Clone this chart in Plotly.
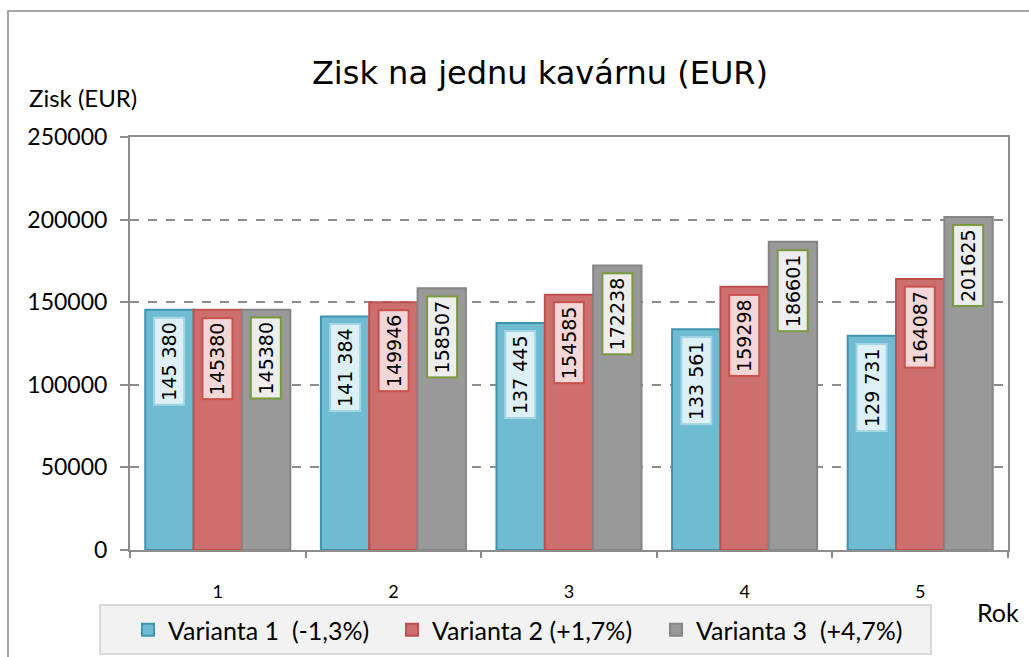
import plotly.graph_objects as go

years = [1, 2, 3, 4, 5]
year_labels = ["1", "2", "3", "4", "5"]
v1 = [145380, 141384, 137445, 133561, 129731]
v2 = [145380, 149946, 154585, 159298, 164087]
v3 = [145380, 158507, 172238, 186601, 201625]
v1_text = ["145 380", "141 384", "137 445", "133 561", "129 731"]
v2_text = ["145380", "149946", "154585", "159298", "164087"]
v3_text = ["145380", "158507", "172238", "186601", "201625"]
names = ["Varianta 1  (-1,3%)", "Varianta 2 (+1,7%)", "Varianta 3  (+4,7%)"]

fills = ["#6fbcd2", "#cd6f6f", "#999999"]
lines = ["#3f93ad", "#c0504d", "#858585"]
lab_bg = ["#dcf0f6", "#f3d6d6", "#ededed"]
lab_border = ["#a3d5e4", "#c9514e", "#7a9a3c"]

W, H = 1029, 657
L, R, T, B = 130, 21, 137, 107
pw, ph = W - L - R, H - T - B

bargap = 0.174
bw = (1 - bargap) / 3

def px_x(p):
    return (p - L) / pw

def px_y(p):
    return (H - B - p) / ph

fig = go.Figure()
series = [v1, v2, v3]
texts = [v1_text, v2_text, v3_text]
for j in range(3):
    fig.add_trace(go.Bar(
        x=years, y=series[j], name=names[j],
        marker=dict(color=fills[j], line=dict(color=lines[j], width=2)),
        hoverinfo="skip",
    ))

annotations = []
for j in range(3):
    for i, yv in enumerate(years):
        annotations.append(dict(
            x=yv + (j - 1) * bw, y=series[j][i], xref="x", yref="y",
            text=texts[j][i], showarrow=False, textangle=-90,
            xanchor="center", yanchor="top", yshift=-7,
            font=dict(family="DejaVu Sans", size=19, color="#000000"),
            bgcolor=lab_bg[j], bordercolor=lab_border[j], borderwidth=2, borderpad=3,
        ))

annotations.append(dict(
    x=px_x(27), y=px_y(98), xref="paper", yref="paper", text="Zisk (EUR)",
    showarrow=False, xanchor="left", yanchor="middle",
    font=dict(family="Lato", size=24, color="#000000"),
))
annotations.append(dict(
    x=px_x(998), y=px_y(612), xref="paper", yref="paper", text="Rok",
    showarrow=False, xanchor="center", yanchor="middle",
    font=dict(family="Lato", size=25, color="#000000"),
))

shapes = [
    dict(type="rect", xref="paper", yref="paper",
         x0=px_x(8), x1=px_x(1040), y0=px_y(670), y1=px_y(11),
         line=dict(color="#a6a6a6", width=2), fillcolor="rgba(0,0,0,0)", layer="below"),
    dict(type="rect", xref="paper", yref="paper",
         x0=px_x(100), x1=px_x(931), y0=px_y(654), y1=px_y(605),
         line=dict(color="#d9d9d9", width=2), fillcolor="#f2f2f2", layer="below"),
]

fig.update_layout(
    width=W, height=H,
    margin=dict(l=L, r=R, t=T, b=B, autoexpand=False),
    paper_bgcolor="white", plot_bgcolor="white",
    barmode="group", bargap=bargap, bargroupgap=0,
    title=dict(text="Zisk na jednu kavárnu (EUR)", xref="container", yref="container",
               x=540 / W, y=1 - 73 / H, xanchor="center", yanchor="middle",
               font=dict(family="DejaVu Sans", size=32, color="#000000")),
    annotations=annotations,
    shapes=shapes,
    showlegend=True,
    legend=dict(orientation="h", xref="container", yref="container",
                x=524 / W, xanchor="center", y=1 - 630 / H, yanchor="middle",
                bgcolor="rgba(0,0,0,0)", borderwidth=0, entrywidth=219,
                font=dict(family="Lato", size=25, color="#000000"),
                traceorder="normal"),
    xaxis=dict(type="linear", range=[0.5, 5.5], tickmode="array", tickvals=years,
               ticktext=year_labels, ticks="", showgrid=False, zeroline=False,
               showline=True, linecolor="#8c8c8c", linewidth=2, mirror=True,
               ticklabelstandoff=24,
               tickfont=dict(family="Lato", size=18, color="#000000"),
               minor=dict(tickmode="array", tickvals=[0.5, 1.5, 2.5, 3.5, 4.5, 5.5],
                          ticks="outside", ticklen=6, tickcolor="#8c8c8c", tickwidth=1.5)),
    yaxis=dict(range=[0, 250000], dtick=50000, tickformat="d", ticks="outside",
               ticklen=8, tickcolor="#8c8c8c", tickwidth=2,
               showgrid=True, gridcolor="#8c8c8c", griddash="dash", gridwidth=1.5,
               zeroline=False, showline=True, linecolor="#8c8c8c", linewidth=2, mirror=True,
               ticklabelstandoff=8,
               tickfont=dict(family="Lato", size=23, color="#000000")),
)

fig.write_html("out.html", config={"displayModeBar": False},
               post_script="document.body.style.margin='0';")
